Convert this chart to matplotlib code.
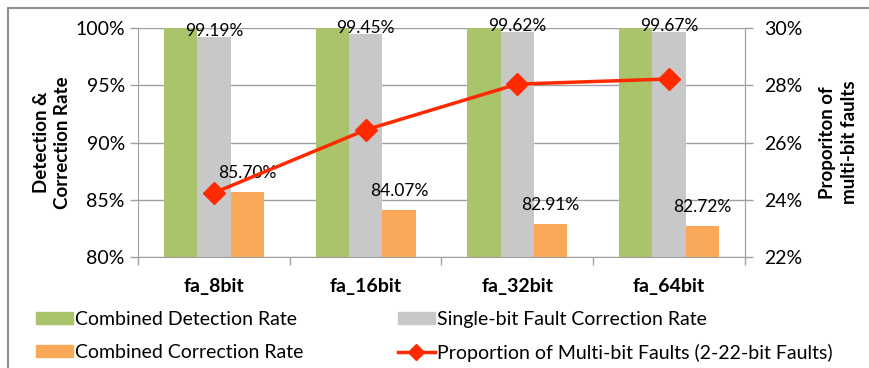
import numpy as np
import matplotlib.pyplot as plt
from matplotlib.patches import Rectangle
from matplotlib.lines import Line2D
from matplotlib.ticker import FuncFormatter

plt.rcParams['font.family'] = ['Lato', 'DejaVu Sans']

# 各配置的检测/纠错率与多比特故障比例
configs = ['fa_8bit', 'fa_16bit', 'fa_32bit', 'fa_64bit']
detect_rate = [100.0, 100.0, 100.0, 100.0]
single_corr = [99.19, 99.45, 99.62, 99.67]
comb_corr = [85.70, 84.07, 82.91, 82.72]
multi_bit = [24.24, 26.44, 28.04, 28.22]

green = '#A9C46A'
grey = '#C8C8C8'
orange = '#F9A858'
red = '#FF2A00'
axis_col = '#A0A0A0'

fig = plt.figure(figsize=(8.7, 3.68), dpi=100)
ax = fig.add_axes([0.1586, 0.3016, 0.6977, 0.6223])

x = np.arange(len(configs))
w = 0.22
ax.bar(x - w, detect_rate, w, color=green, zorder=2)
ax.bar(x, single_corr, w, color=grey, zorder=2)
ax.bar(x + w, comb_corr, w, color=orange, zorder=2)

for i in range(len(configs)):
    ax.annotate('%.2f%%' % single_corr[i], (x[i], single_corr[i]), xytext=(0, -1.5),
                textcoords='offset points', ha='center', va='bottom', fontsize=12.5, zorder=5)
    ax.annotate('%.2f%%' % comb_corr[i], (x[i] + w, comb_corr[i]), xytext=(0, 8),
                textcoords='offset points', ha='center', va='bottom', fontsize=12.5, zorder=5)

ax.set_xlim(-0.5, len(configs) - 0.5)
ax.set_ylim(80, 100)
ax.set_yticks(np.arange(80, 101, 5))
ax.yaxis.set_major_formatter(FuncFormatter(lambda v, p: '%d%%' % v))
ax.set_xticks(np.arange(-0.5, len(configs), 1.0))
ax.set_xticklabels([])
for i, c in enumerate(configs):
    ax.text(x[i], -0.13, c, transform=ax.get_xaxis_transform(), ha='center', va='center',
            fontsize=14, fontweight='bold')
ax.grid(axis='y', color=axis_col, lw=1, zorder=0)
ax.spines['top'].set_visible(False)
for s in ['left', 'bottom', 'right']:
    ax.spines[s].set_color(axis_col)
ax.tick_params(axis='both', colors=axis_col, length=6, width=1, labelcolor='black', labelsize=14)
ax.set_ylabel('Detection &\nCorrection Rate', fontsize=13.5, fontweight='bold', labelpad=3,
              linespacing=1.25)

ax2 = ax.twinx()
ax2.plot(x, multi_bit, color=red, lw=2.5, marker='D', ms=11, zorder=4)
ax2.set_ylim(22, 30)
ax2.set_yticks(np.arange(22, 31, 2))
ax2.yaxis.set_major_formatter(FuncFormatter(lambda v, p: '%d%%' % v))
ax2.tick_params(axis='y', colors=axis_col, length=6, width=1, labelcolor='black', labelsize=14, pad=8)
for s in ['top', 'left', 'bottom']:
    ax2.spines[s].set_visible(False)
ax2.spines['right'].set_color(axis_col)
ax2.set_ylabel('Proporiton of\nmulti-bit faults', fontsize=13.5, fontweight='bold', labelpad=12,
               linespacing=1.3)

# 外框
fig.patches.append(Rectangle((8 / 870, -0.1), 1.2, 1 - 8 / 368 + 0.1, transform=fig.transFigure,
                             fill=False, edgecolor='#909090', lw=1.5))

leg_kw = dict(loc='upper left', frameon=False, fontsize=14, handlelength=1.9, handleheight=0.62,
              handletextpad=0.1, labelspacing=0.82, borderaxespad=0, borderpad=0)
leg1 = fig.legend([Rectangle((0, 0), 1, 1, color=green), Rectangle((0, 0), 1, 1, color=orange)],
                  ['Combined Detection Rate', 'Combined Correction Rate'],
                  bbox_to_anchor=(36 / 870, 1 - 311 / 368), **leg_kw)
leg2 = fig.legend([Rectangle((0, 0), 1, 1, color=grey),
                   Line2D([], [], color=red, lw=2.5, marker='D', ms=8)],
                  ['Single-bit Fault Correction Rate', 'Proportion of Multi-bit Faults (2-22-bit Faults)'],
                  bbox_to_anchor=(398 / 870, 1 - 311 / 368), **leg_kw)

fig.savefig('out.png', dpi=100)
